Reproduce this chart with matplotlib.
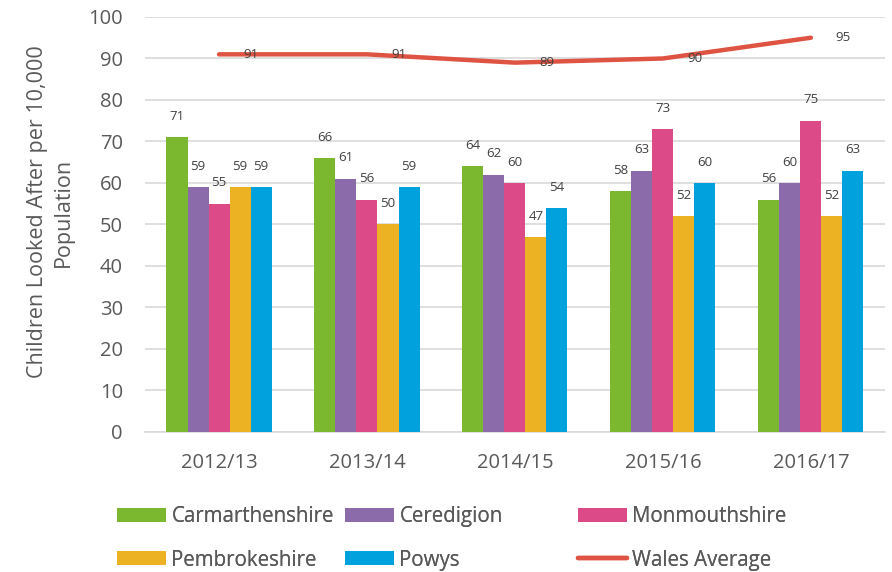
import matplotlib.pyplot as plt
import numpy as np

plt.rcParams['font.family'] = ['Open Sans', 'DejaVu Sans']

years = ['2012/13', '2013/14', '2014/15', '2015/16', '2016/17']
carmarthenshire = [71, 66, 64, 58, 56]
ceredigion = [59, 61, 62, 63, 60]
monmouthshire = [55, 56, 60, 73, 75]
pembrokeshire = [59, 50, 47, 52, 52]
powys = [59, 59, 54, 60, 63]
wales_average = [91, 91, 89, 90, 95]

series = [
    ('Carmarthenshire', carmarthenshire, '#7CB82F'),
    ('Ceredigion', ceredigion, '#8C6BAB'),
    ('Monmouthshire', monmouthshire, '#DC4A88'),
    ('Pembrokeshire', pembrokeshire, '#EDB223'),
    ('Powys', powys, '#00A1DD'),
]

fig = plt.figure(figsize=(8.92, 5.72), dpi=100)
ax = fig.add_axes([0.1626, 0.2448, 0.8294, 0.7255])

x = np.arange(len(years))
w = 0.142
handles = {}
for i, (name, vals, col) in enumerate(series):
    pos = x + (i - 2) * w
    b = ax.bar(pos, vals, w, color=col, label=name, zorder=3)
    handles[name] = b
    for px, v in zip(pos, vals):
        ax.annotate(str(v), (px, v), xytext=(0, 15), textcoords='offset points',
                    ha='center', va='center', fontsize=9.5, color='#404040')

ln, = ax.plot(x, wales_average, color='#DE5341', lw=3.2, label='Wales Average', zorder=4,
              solid_capstyle='round')
handles['Wales Average'] = ln
for px, v in zip(x, wales_average):
    ax.annotate(str(v), (px, v), xytext=(23, 0), textcoords='offset points',
                ha='center', va='center', fontsize=9.5, color='#404040', zorder=6)

ax.set_xlim(-0.5, 4.5)
ax.set_ylim(0, 100)
ax.set_yticks(range(0, 101, 10))
ax.set_xticks(x)
ax.set_xticklabels(years)
ax.tick_params(axis='both', length=0, labelsize=14.5, colors='#595959')
ax.tick_params(axis='y', pad=16)
ax.tick_params(axis='x', pad=15)
ax.grid(axis='y', color='#D9D9D9', lw=1.2, zorder=0)
for s in ['top', 'right', 'left']:
    ax.spines[s].set_visible(False)
ax.spines['bottom'].set_color('#D9D9D9')
ax.spines['bottom'].set_linewidth(1.2)
fig.text(50 / 892, 1 - 212 / 572, 'Children Looked After per 10,000\nPopulation',
         rotation=90, ha='center', va='center', multialignment='center',
         fontsize=15.5, color='#595959', linespacing=1.3)

# three legend columns placed separately, like the original
cols = [['Carmarthenshire', 'Pembrokeshire'], ['Ceredigion', 'Powys'],
        ['Monmouthshire', 'Wales Average']]
col_x = [117, 345, 578]
for names, cx in zip(cols, col_x):
    leg = fig.legend([handles[k] for k in names], names, loc='upper left',
                     bbox_to_anchor=(cx / 892, 1 - 506 / 572), frameon=False,
                     fontsize=14.8, labelcolor='#595959', handlelength=2.4,
                     handleheight=0.68, handletextpad=0.25, labelspacing=1.1,
                     borderpad=0, borderaxespad=0)
    fig.add_artist(leg)

fig.savefig('out.png', dpi=100)
